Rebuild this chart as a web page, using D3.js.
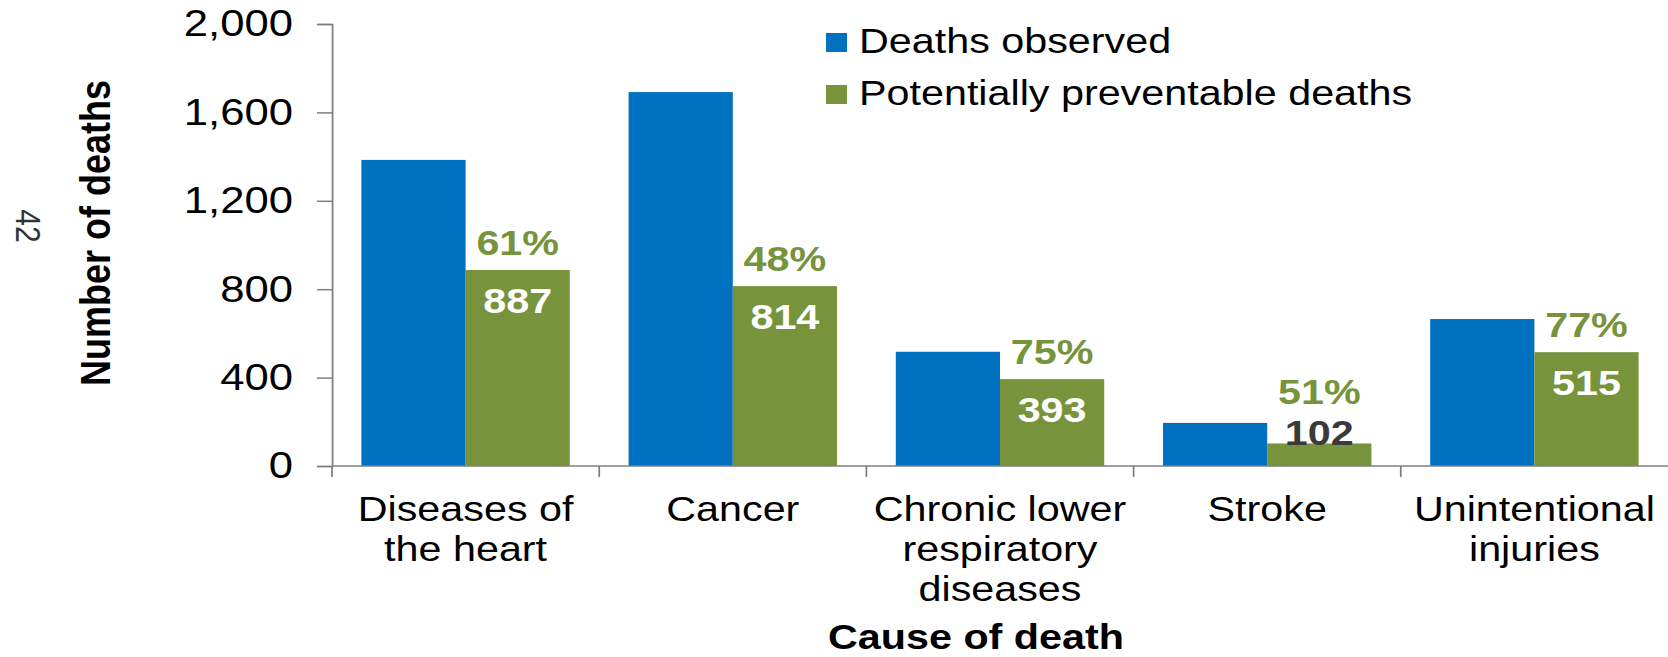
<!DOCTYPE html>
<html>
<head>
<meta charset="utf-8">
<script src="https://cdn.jsdelivr.net/npm/d3@7"></script>
<style>
  body{margin:0;background:#fff;}
  svg text{font-family:"Liberation Sans",Arial,sans-serif;}
</style>
</head>
<body>
<svg id="chart"></svg>
<script>
// 데이터
const categories = [
  ["Diseases of", "the heart"],
  ["Cancer"],
  ["Chronic lower", "respiratory", "diseases"],
  ["Stroke"],
  ["Unintentional", "injuries"]
];
const deathsObserved = [1385, 1692, 517, 195, 665];
const preventableDeaths = [887, 814, 393, 102, 515];
const preventablePct = ["61%", "48%", "75%", "51%", "77%"];
const yTicks = [0, 400, 800, 1200, 1600, 2000];
const seriesNames = ["Deaths observed", "Potentially preventable deaths"];

const WIDTH = 1668, HEIGHT = 657;
// 원본 이미지가 가로로 늘어나 있어서 전체를 가로 스케일
const SX = 1.18;
const ux = v => v / SX;

const BLUE = "#0070c0", GREEN = "#77933c";

const svg = d3.select("#chart").attr("width", WIDTH).attr("height", HEIGHT);
const g = svg.append("g").attr("transform", "scale(" + SX + ",1)");

const AXIS_X = ux(332), RIGHT = ux(1668);
const Y0 = 466, Y1 = 24;

const xScale = d3.scaleBand()
  .domain(d3.range(categories.length))
  .range([AXIS_X, RIGHT])
  .paddingInner(0.22)
  .paddingOuter(0.11);
const sub = d3.scaleBand().domain([0, 1]).range([0, xScale.bandwidth()]);
const yScale = d3.scaleLinear().domain([0, 2000]).range([Y0, Y1]);

// 막대
const groups = g.selectAll("g.cat")
  .data(categories.map((c, i) => i))
  .join("g")
  .attr("class", "cat")
  .attr("transform", i => "translate(" + xScale(i) + ",0)");

groups.append("rect")
  .attr("x", sub(0))
  .attr("width", sub.bandwidth())
  .attr("y", i => yScale(deathsObserved[i]))
  .attr("height", i => Y0 - yScale(deathsObserved[i]))
  .attr("fill", BLUE);

groups.append("rect")
  .attr("x", sub(1))
  .attr("width", sub.bandwidth())
  .attr("y", i => yScale(preventableDeaths[i]))
  .attr("height", i => Y0 - yScale(preventableDeaths[i]))
  .attr("fill", GREEN);

// 값 라벨 (막대가 작으면 위쪽에 어두운 색)
const labelX = sub(1) + sub.bandwidth() / 2;
const isShort = i => (Y0 - yScale(preventableDeaths[i])) < 60;
groups.append("text")
  .attr("x", labelX)
  .attr("y", i => {
    const top = yScale(preventableDeaths[i]);
    return isShort(i) ? top + 2 : top + 43;
  })
  .attr("text-anchor", "middle")
  .attr("font-size", 35)
  .attr("font-weight", "bold")
  .attr("fill", i => isShort(i) ? "#3a3a3a" : "#fff")
  .text(i => preventableDeaths[i]);

groups.append("text")
  .attr("x", labelX)
  .attr("y", i => {
    const top = yScale(preventableDeaths[i]);
    return isShort(i) ? top - 39 : top - 15;
  })
  .attr("text-anchor", "middle")
  .attr("font-size", 35)
  .attr("font-weight", "bold")
  .attr("fill", GREEN)
  .text(i => preventablePct[i]);

// y 축
const yAxis = g.append("g")
  .attr("transform", "translate(" + AXIS_X + ",0)")
  .call(d3.axisLeft(yScale).tickValues(yTicks).tickFormat(d3.format(",")).tickSize(ux(15)).tickPadding(ux(24)));
yAxis.select(".domain").attr("stroke", "#7f7f7f").attr("stroke-width", 1.5);
yAxis.selectAll(".tick line").attr("stroke", "#7f7f7f").attr("stroke-width", 1.5);
yAxis.selectAll(".tick text")
  .attr("font-family", "Liberation Sans, Arial, sans-serif")
  .attr("font-size", 37)
  .attr("fill", "#000");

// x 축
g.append("line")
  .attr("x1", AXIS_X).attr("x2", RIGHT)
  .attr("y1", Y0).attr("y2", Y0)
  .attr("stroke", "#7f7f7f").attr("stroke-width", 1.5);
g.selectAll("line.xtick")
  .data(d3.range(categories.length))
  .join("line")
  .attr("class", "xtick")
  .attr("x1", i => AXIS_X + i * xScale.step())
  .attr("x2", i => AXIS_X + i * xScale.step())
  .attr("y1", Y0).attr("y2", Y0 + 11)
  .attr("stroke", "#7f7f7f").attr("stroke-width", 1.5);

// 카테고리 라벨
const catText = g.selectAll("text.cat")
  .data(categories)
  .join("text")
  .attr("class", "cat")
  .attr("text-anchor", "middle")
  .attr("font-size", 35)
  .attr("fill", "#000");
catText.selectAll("tspan")
  .data((d, i) => d.map(s => ({s: s, i: i})))
  .join("tspan")
  .attr("x", d => xScale(d.i) + xScale.bandwidth() / 2)
  .attr("y", (d, j) => 521 + j * 40)
  .text(d => d.s);

// 축 제목
g.append("text")
  .attr("x", ux(976)).attr("y", 649)
  .attr("text-anchor", "middle")
  .attr("font-size", 35)
  .attr("font-weight", "bold")
  .text("Cause of death");

g.append("text")
  .attr("transform", "translate(" + ux(110) + ",233) rotate(-90)")
  .attr("text-anchor", "middle")
  .attr("font-size", 36)
  .attr("font-weight", "bold")
  .text("Number of deaths");

// 페이지 번호
g.append("text")
  .attr("transform", "translate(" + ux(16) + ",226) rotate(90)")
  .attr("text-anchor", "middle")
  .attr("font-size", 30)
  .attr("fill", "#333")
  .text("42");

// 범례
const legend = g.append("g").attr("transform", "translate(" + ux(826) + ",0)");
const legendItems = legend.selectAll("g")
  .data(seriesNames)
  .join("g")
  .attr("transform", (d, i) => "translate(0," + (i * 52) + ")");
legendItems.append("rect")
  .attr("x", 0).attr("y", 33)
  .attr("width", ux(21)).attr("height", 19)
  .attr("fill", (d, i) => i == 0 ? BLUE : GREEN);
legendItems.append("text")
  .attr("x", ux(33)).attr("y", 53)
  .attr("font-size", 35)
  .attr("fill", "#000")
  .text(d => d);
</script>
</body>
</html>
